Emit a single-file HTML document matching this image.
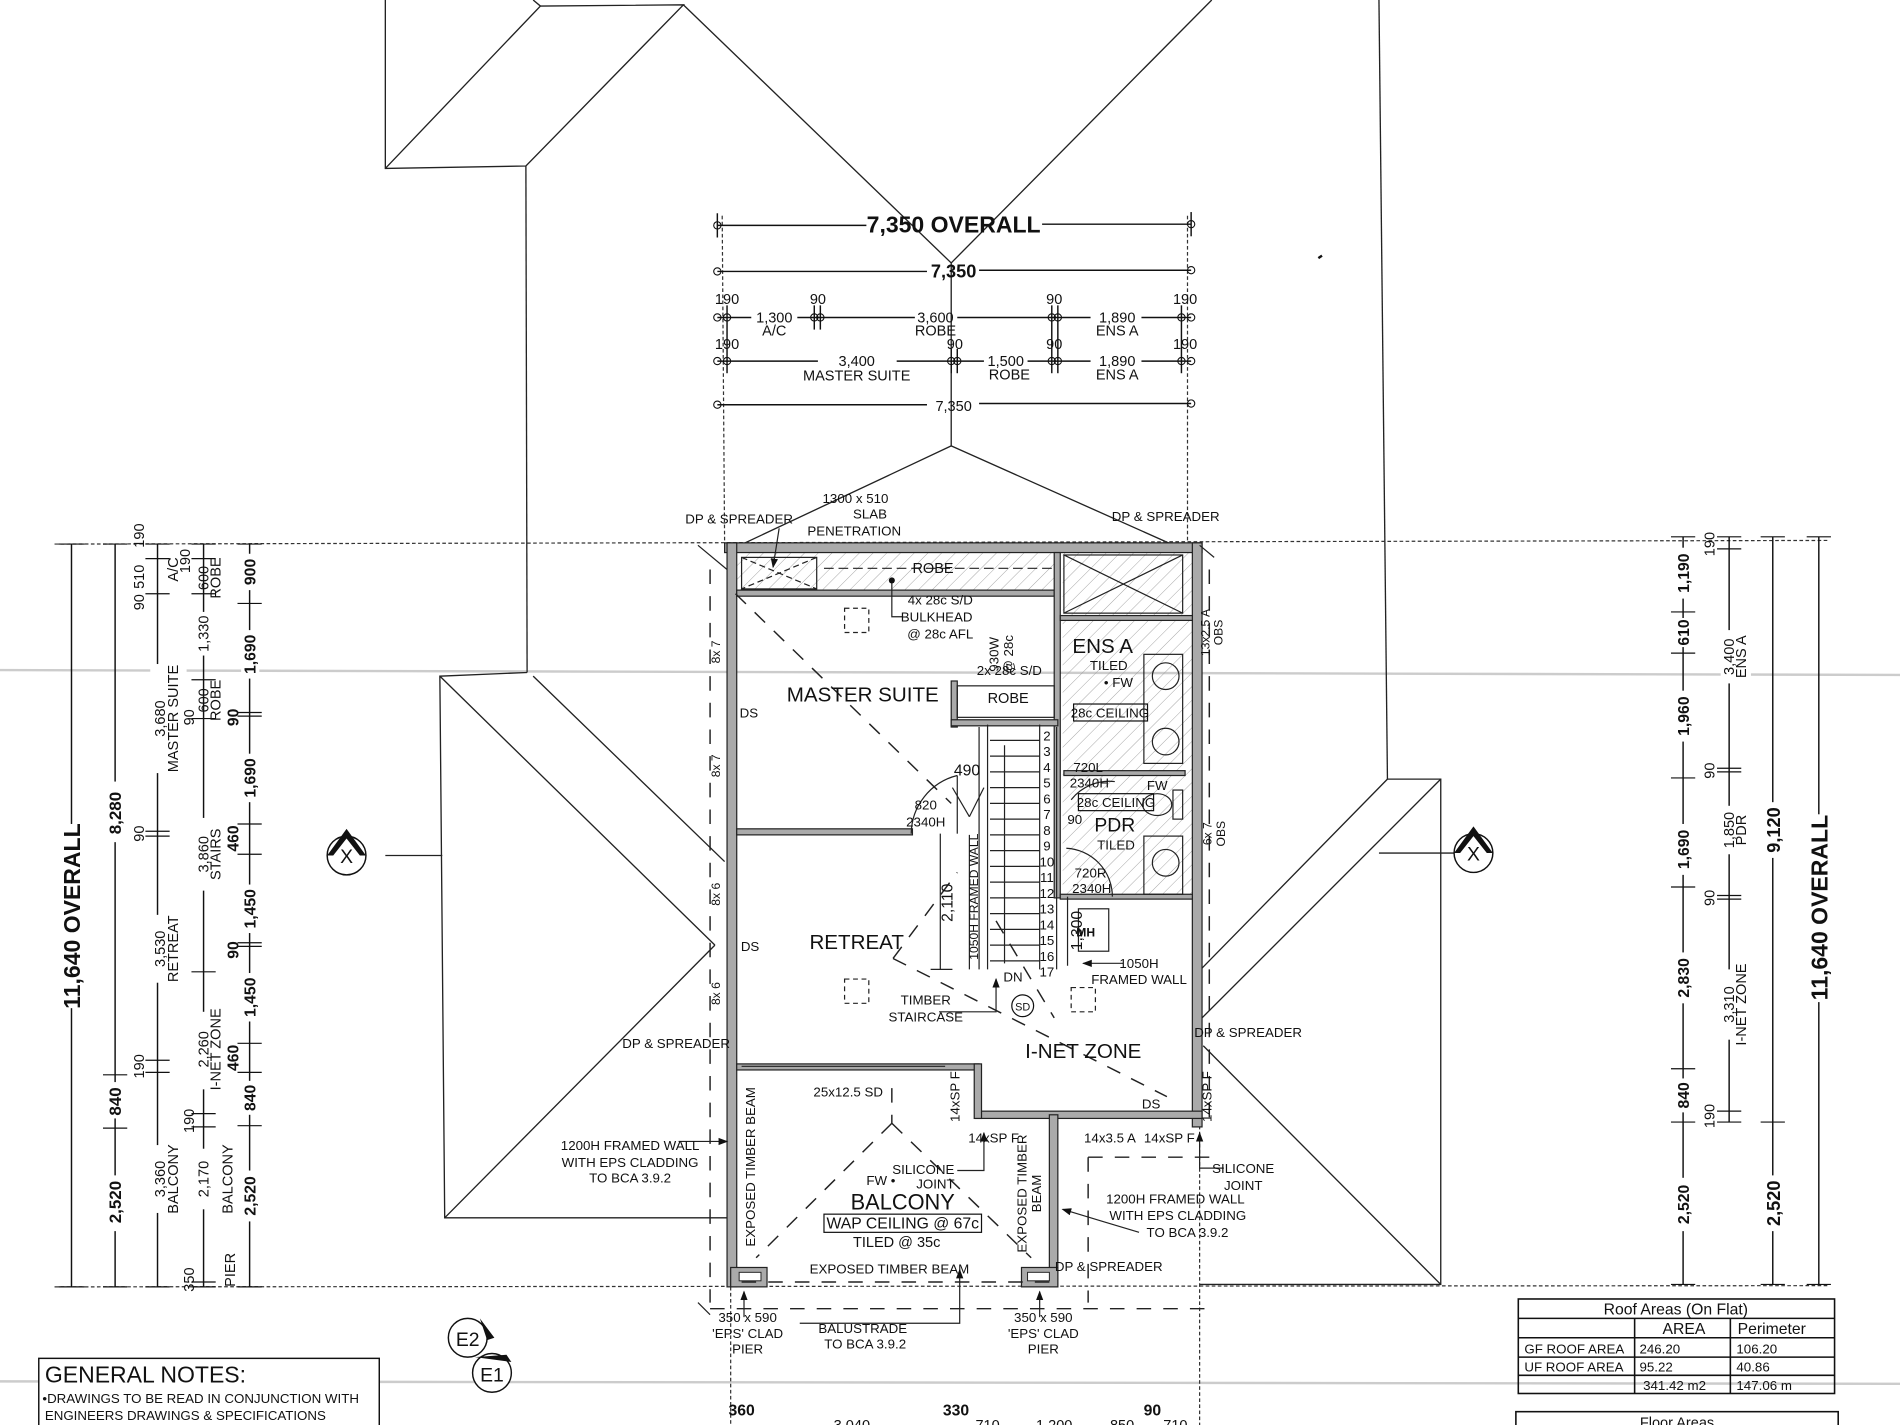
<!DOCTYPE html>
<html><head><meta charset="utf-8">
<style>
html,body{margin:0;padding:0;background:#fff;}
svg{display:block;}
text{font-family:"Liberation Sans Narrow","Liberation Sans",sans-serif;fill:#111;}
</style></head>
<body>
<svg width="1900" height="1425" viewBox="0 0 1568 1176" preserveAspectRatio="none" xmlns="http://www.w3.org/2000/svg">
<defs>
<pattern id="h" width="8" height="8" patternUnits="userSpaceOnUse" patternTransform="rotate(45)">
<line x1="0" y1="0" x2="0" y2="8" stroke="#999" stroke-width="0.7"/></pattern>
<marker id="ar" markerWidth="8" markerHeight="8" refX="7" refY="4" orient="auto"><path d="M0,1 L8,4 L0,7z" fill="#111"/></marker>
</defs>
<rect width="1568" height="1176" fill="#fff"/>
<!-- paper folds -->
<line x1="0" y1="553" x2="1568" y2="557" stroke="#ccc" stroke-width="2"/>
<line x1="0" y1="1140" x2="1568" y2="1142" stroke="#ccc" stroke-width="2"/>

<g stroke="#222" stroke-width="1.1" fill="none">
<!-- top roof -->
<polyline points="318,0 318,139 434,137 564,4 446,5 318,139"/>
<line x1="446" y1="5" x2="440" y2="0"/>
<line x1="434" y1="137" x2="435" y2="555"/>
<line x1="564" y1="4" x2="785" y2="217"/>
<line x1="1000" y1="0" x2="785" y2="217"/>
<line x1="785" y1="217" x2="785" y2="368"/>
<line x1="1138" y1="0" x2="1145" y2="643"/>
<polyline points="600,455 785,368 980,455"/>
<!-- left lower roof -->
<polyline points="435,555 363,558 367,1005 600,1005"/>
<line x1="363" y1="558" x2="590" y2="780"/>
<line x1="440" y1="558" x2="598" y2="711"/>
<line x1="367" y1="1005" x2="590" y2="780"/>
<line x1="318" y1="706" x2="365" y2="706"/>
<!-- right lower roof -->
<polyline points="1145,643 1189,643 1189,1060 990,1060"/>
<line x1="1145" y1="643" x2="989" y2="802"/>
<line x1="1189" y1="643" x2="989" y2="843"/>
<line x1="993" y1="863" x2="1189" y2="1060"/>
<line x1="1138" y1="704" x2="1200" y2="704"/>
</g>
<!-- X markers -->
<g stroke="#111" stroke-width="1.2" fill="#fff">
<circle cx="286" cy="706" r="16"/><circle cx="1216" cy="704" r="16"/>
<circle cx="386" cy="1104" r="16"/><circle cx="406" cy="1133" r="16"/>
</g>
<path d="M270,706 L286,684 L302,706 L297,706 L286,692 L275,706z" fill="#111"/>
<path d="M1200,704 L1216,682 L1232,704 L1227,704 L1216,690 L1205,704z" fill="#111"/>
<text x="286" y="712" font-size="16" text-anchor="middle">X</text>
<text x="1216" y="710" font-size="16" text-anchor="middle">X</text>
<text x="386" y="1111" font-size="16" text-anchor="middle">E2</text>
<text x="406" y="1140" font-size="16" text-anchor="middle">E1</text>
<path d="M396,1088 L408,1104 L402,1106z M392,1120 L418,1118 L422,1124z" fill="#111"/>

<!-- dotted extent lines -->
<g stroke="#333" stroke-width="1" stroke-dasharray="3,2" fill="none">
<line x1="45" y1="449" x2="1510" y2="446"/>
<line x1="45" y1="1062" x2="1510" y2="1061"/>
<line x1="596" y1="178" x2="598" y2="449"/>
<line x1="980" y1="178" x2="980" y2="449"/>
<line x1="603" y1="1062" x2="603" y2="1176"/>
<line x1="990" y1="449" x2="990" y2="1176"/>
</g>

<!-- TOP DIMENSIONS -->
<g stroke="#111" stroke-width="1.2" fill="none">
<line x1="592" y1="186" x2="715" y2="186"/><line x1="860" y1="185" x2="983" y2="185"/>
<line x1="592" y1="224" x2="765" y2="224"/><line x1="808" y1="223" x2="983" y2="223"/>
<line x1="592" y1="262" x2="620" y2="262"/><line x1="658" y1="262" x2="755" y2="262"/><line x1="790" y1="262" x2="900" y2="262"/><line x1="942" y1="262" x2="983" y2="262"/>
<line x1="592" y1="298" x2="675" y2="298"/><line x1="740" y1="298" x2="812" y2="298"/><line x1="848" y1="298" x2="900" y2="298"/><line x1="942" y1="298" x2="983" y2="298"/>
<line x1="592" y1="334" x2="765" y2="334"/><line x1="808" y1="333" x2="983" y2="333"/>
<line x1="592" y1="176" x2="592" y2="196"/><line x1="983" y1="175" x2="983" y2="195"/>
<line x1="600" y1="252" x2="600" y2="308"/><line x1="672" y1="252" x2="672" y2="272"/><line x1="677" y1="252" x2="677" y2="272"/>
<line x1="868" y1="252" x2="868" y2="308"/><line x1="873" y1="252" x2="873" y2="308"/><line x1="975" y1="252" x2="975" y2="308"/>
<line x1="785" y1="288" x2="785" y2="308"/><line x1="790" y1="288" x2="790" y2="308"/>
</g>
<g fill="none" stroke="#111" stroke-width="0.9">
<circle cx="592" cy="186" r="3"/><circle cx="983" cy="185" r="3"/><circle cx="592" cy="224" r="3"/><circle cx="983" cy="223" r="3"/>
<circle cx="592" cy="262" r="3"/><circle cx="600" cy="262" r="3"/><circle cx="672" cy="262" r="3"/><circle cx="677" cy="262" r="3"/><circle cx="868" cy="262" r="3"/><circle cx="873" cy="262" r="3"/><circle cx="975" cy="262" r="3"/><circle cx="983" cy="262" r="3"/>
<circle cx="592" cy="298" r="3"/><circle cx="600" cy="298" r="3"/><circle cx="785" cy="298" r="3"/><circle cx="790" cy="298" r="3"/><circle cx="868" cy="298" r="3"/><circle cx="873" cy="298" r="3"/><circle cx="975" cy="298" r="3"/><circle cx="983" cy="298" r="3"/>
<circle cx="592" cy="334" r="3"/><circle cx="983" cy="333" r="3"/>
</g>
<g font-size="12" text-anchor="middle">
<text x="787" y="192" font-size="19" font-weight="bold">7,350 OVERALL</text>
<text x="787" y="229" font-size="15" font-weight="bold">7,350</text>
<text x="600" y="251">190</text><text x="675" y="251">90</text><text x="870" y="251">90</text><text x="978" y="251">190</text>
<text x="639" y="266">1,300</text><text x="639" y="277">A/C</text>
<text x="772" y="266">3,600</text><text x="772" y="277">ROBE</text>
<text x="922" y="266">1,890</text><text x="922" y="277">ENS A</text>
<text x="600" y="288">190</text><text x="788" y="288">90</text><text x="870" y="288">90</text><text x="978" y="288">190</text>
<text x="707" y="302">3,400</text><text x="707" y="314">MASTER SUITE</text>
<text x="830" y="302">1,500</text><text x="833" y="313">ROBE</text>
<text x="922" y="302">1,890</text><text x="922" y="313">ENS A</text>
<text x="787" y="339">7,350</text>
</g>

<!-- LEFT DIMENSIONS -->
<g stroke="#111" stroke-width="1.2" fill="none">
<line x1="59" y1="449" x2="59" y2="1062"/>
<line x1="95" y1="449" x2="95" y2="1062"/>
<line x1="130" y1="449" x2="130" y2="1062"/>
<line x1="168" y1="449" x2="168" y2="1062"/>
<line x1="206" y1="449" x2="206" y2="1062"/>
<g stroke-width="1">
<line x1="48" y1="449" x2="70" y2="449"/><line x1="48" y1="1062" x2="70" y2="1062"/>
<line x1="85" y1="449" x2="105" y2="449"/><line x1="85" y1="887" x2="105" y2="887"/><line x1="85" y1="931" x2="105" y2="931"/><line x1="85" y1="1062" x2="105" y2="1062"/>
<line x1="120" y1="449" x2="140" y2="449"/><line x1="120" y1="461" x2="140" y2="461"/><line x1="120" y1="490" x2="140" y2="490"/><line x1="120" y1="686" x2="140" y2="686"/><line x1="120" y1="690" x2="140" y2="690"/><line x1="120" y1="875" x2="140" y2="875"/><line x1="120" y1="885" x2="140" y2="885"/><line x1="120" y1="1062" x2="140" y2="1062"/>
<line x1="158" y1="449" x2="178" y2="449"/><line x1="158" y1="461" x2="178" y2="461"/><line x1="158" y1="490" x2="178" y2="490"/><line x1="158" y1="561" x2="178" y2="561"/><line x1="158" y1="593" x2="178" y2="593"/><line x1="158" y1="802" x2="178" y2="802"/><line x1="158" y1="919" x2="178" y2="919"/><line x1="158" y1="930" x2="178" y2="930"/><line x1="158" y1="1058" x2="178" y2="1058"/><line x1="158" y1="1062" x2="178" y2="1062"/>
<line x1="196" y1="449" x2="216" y2="449"/><line x1="196" y1="498" x2="216" y2="498"/><line x1="196" y1="588" x2="216" y2="588"/><line x1="196" y1="591" x2="216" y2="591"/><line x1="196" y1="680" x2="216" y2="680"/><line x1="196" y1="705" x2="216" y2="705"/><line x1="196" y1="778" x2="216" y2="778"/><line x1="196" y1="781" x2="216" y2="781"/><line x1="196" y1="861" x2="216" y2="861"/><line x1="196" y1="885" x2="216" y2="885"/><line x1="196" y1="929" x2="216" y2="929"/><line x1="196" y1="1062" x2="216" y2="1062"/>
</g></g>
<g font-size="12" text-anchor="middle">
<text transform="translate(66,756) rotate(-90)" font-size="20" font-weight="bold" fill="#fff" stroke="none"> </text>
<rect x="48" y="680" width="22" height="152" fill="#fff"/>
<text transform="translate(66,756) rotate(-90)" font-size="19" font-weight="bold">11,640 OVERALL</text>
<rect x="88" y="645" width="15" height="50" fill="#fff"/><text transform="translate(100,671) rotate(-90)" font-size="14" font-weight="bold">8,280</text>
<rect x="88" y="893" width="15" height="30" fill="#fff"/><text transform="translate(100,909) rotate(-90)" font-size="14" font-weight="bold">840</text>
<rect x="88" y="970" width="15" height="46" fill="#fff"/><text transform="translate(100,992) rotate(-90)" font-size="14" font-weight="bold">2,520</text>
<rect x="124" y="548" width="30" height="90" fill="#fff"/><text transform="translate(136,593) rotate(-90)">3,680</text><text transform="translate(147,593) rotate(-90)">MASTER SUITE</text>
<rect x="124" y="755" width="30" height="56" fill="#fff"/><text transform="translate(136,783) rotate(-90)">3,530</text><text transform="translate(147,783) rotate(-90)">RETREAT</text>
<rect x="124" y="945" width="30" height="56" fill="#fff"/><text transform="translate(136,973) rotate(-90)">3,360</text><text transform="translate(147,973) rotate(-90)">BALCONY</text>
<text transform="translate(119,442) rotate(-90)">190</text><text transform="translate(119,476) rotate(-90)">510</text><text transform="translate(119,497) rotate(-90)">90</text>
<text transform="translate(119,688) rotate(-90)">90</text><text transform="translate(119,880) rotate(-90)">190</text>
<text transform="translate(157,463) rotate(-90)">190</text><text transform="translate(147,470) rotate(-90)">A/C</text>
<rect x="160" y="505" width="15" height="36" fill="#fff"/><text transform="translate(172,523) rotate(-90)">1,330</text>
<text transform="translate(172,477) rotate(-90)">600</text><text transform="translate(182,477) rotate(-90)">ROBE</text>
<text transform="translate(172,578) rotate(-90)">600</text><text transform="translate(182,578) rotate(-90)">ROBE</text><text transform="translate(160,592) rotate(-90)">90</text>
<rect x="160" y="675" width="30" height="60" fill="#fff"/><text transform="translate(172,705) rotate(-90)">3,860</text><text transform="translate(182,705) rotate(-90)">STAIRS</text>
<rect x="160" y="835" width="30" height="64" fill="#fff"/><text transform="translate(172,866) rotate(-90)">2,260</text><text transform="translate(182,866) rotate(-90)">I-NET ZONE</text>
<text transform="translate(160,925) rotate(-90)">190</text>
<rect x="160" y="948" width="30" height="50" fill="#fff"/><text transform="translate(172,973) rotate(-90)">2,170</text><text transform="translate(192,973) rotate(-90)">BALCONY</text>
<text transform="translate(160,1056) rotate(-90)">350</text><text transform="translate(194,1048) rotate(-90)">PIER</text>
<g font-weight="bold" font-size="13">
<rect x="199" y="457" width="15" height="30" fill="#fff"/><text transform="translate(211,472) rotate(-90)">900</text>
<rect x="199" y="520" width="15" height="40" fill="#fff"/><text transform="translate(211,540) rotate(-90)">1,690</text>
<rect x="199" y="622" width="15" height="40" fill="#fff"/><text transform="translate(211,642) rotate(-90)">1,690</text>
<text transform="translate(197,692) rotate(-90)">460</text>
<rect x="199" y="730" width="15" height="40" fill="#fff"/><text transform="translate(211,750) rotate(-90)">1,450</text>
<rect x="199" y="803" width="15" height="40" fill="#fff"/><text transform="translate(211,823) rotate(-90)">1,450</text>
<text transform="translate(197,873) rotate(-90)">460</text>
<rect x="199" y="892" width="15" height="28" fill="#fff"/><text transform="translate(211,906) rotate(-90)">840</text>
<rect x="199" y="966" width="15" height="42" fill="#fff"/><text transform="translate(211,987) rotate(-90)">2,520</text>
<text transform="translate(197,784) rotate(-90)">90</text><text transform="translate(197,592) rotate(-90)">90</text>
</g>
</g>

<!-- RIGHT DIMENSIONS -->
<g stroke="#111" stroke-width="1.2" fill="none">
<line x1="1389" y1="443" x2="1389" y2="1060"/>
<line x1="1427" y1="443" x2="1427" y2="926"/>
<line x1="1463" y1="443" x2="1463" y2="1060"/>
<line x1="1501" y1="443" x2="1501" y2="1060"/>
<g stroke-width="1">
<line x1="1379" y1="443" x2="1399" y2="443"/><line x1="1379" y1="505" x2="1399" y2="505"/><line x1="1379" y1="539" x2="1399" y2="539"/><line x1="1379" y1="642" x2="1399" y2="642"/><line x1="1379" y1="732" x2="1399" y2="732"/><line x1="1379" y1="882" x2="1399" y2="882"/><line x1="1379" y1="926" x2="1399" y2="926"/><line x1="1379" y1="1060" x2="1399" y2="1060"/>
<line x1="1417" y1="443" x2="1437" y2="443"/><line x1="1417" y1="453" x2="1437" y2="453"/><line x1="1417" y1="634" x2="1437" y2="634"/><line x1="1417" y1="637" x2="1437" y2="637"/><line x1="1417" y1="739" x2="1437" y2="739"/><line x1="1417" y1="742" x2="1437" y2="742"/><line x1="1417" y1="917" x2="1437" y2="917"/><line x1="1417" y1="926" x2="1437" y2="926"/>
<line x1="1453" y1="443" x2="1473" y2="443"/><line x1="1453" y1="926" x2="1473" y2="926"/><line x1="1453" y1="1060" x2="1473" y2="1060"/>
<line x1="1491" y1="443" x2="1511" y2="443"/><line x1="1491" y1="1060" x2="1511" y2="1060"/>
</g></g>
<g font-size="12" text-anchor="middle">
<g font-weight="bold" font-size="13">
<rect x="1382" y="452" width="15" height="42" fill="#fff"/><text transform="translate(1394,473) rotate(-90)">1,190</text>
<rect x="1382" y="510" width="15" height="24" fill="#fff"/><text transform="translate(1394,522) rotate(-90)">610</text>
<rect x="1382" y="570" width="15" height="42" fill="#fff"/><text transform="translate(1394,591) rotate(-90)">1,960</text>
<rect x="1382" y="680" width="15" height="42" fill="#fff"/><text transform="translate(1394,701) rotate(-90)">1,690</text>
<rect x="1382" y="786" width="15" height="42" fill="#fff"/><text transform="translate(1394,807) rotate(-90)">2,830</text>
<rect x="1382" y="890" width="15" height="28" fill="#fff"/><text transform="translate(1394,904) rotate(-90)">840</text>
<rect x="1382" y="972" width="15" height="44" fill="#fff"/><text transform="translate(1394,994) rotate(-90)">2,520</text>
<rect x="1456" y="662" width="15" height="46" fill="#fff"/><text transform="translate(1469,685) rotate(-90)" font-size="15">9,120</text>
<rect x="1456" y="970" width="15" height="46" fill="#fff"/><text transform="translate(1469,993) rotate(-90)" font-size="15">2,520</text>
<rect x="1492" y="672" width="20" height="155" fill="#fff"/><text transform="translate(1508,749) rotate(-90)" font-size="19">11,640 OVERALL</text>
</g>
<text transform="translate(1415,449) rotate(-90)">190</text>
<rect x="1420" y="520" width="25" height="44" fill="#fff"/><text transform="translate(1431,542) rotate(-90)">3,400</text><text transform="translate(1441,542) rotate(-90)">ENS A</text>
<text transform="translate(1415,636) rotate(-90)">90</text><text transform="translate(1415,741) rotate(-90)">90</text>
<rect x="1420" y="665" width="25" height="40" fill="#fff"/><text transform="translate(1431,685) rotate(-90)">1,850</text><text transform="translate(1441,685) rotate(-90)">PDR</text>
<rect x="1420" y="800" width="25" height="58" fill="#fff"/><text transform="translate(1431,829) rotate(-90)">3,310</text><text transform="translate(1441,829) rotate(-90)">I-NET ZONE</text>
<text transform="translate(1415,921) rotate(-90)">190</text>
</g>

<!-- PLAN -->
<!-- wet area hatch -->
<rect x="877" y="456" width="107" height="284" fill="url(#h)"/>
<rect x="608" y="456" width="262" height="32" fill="url(#h)"/>
<g fill="#aaa" stroke="#222" stroke-width="1">
<rect x="598" y="448" width="394" height="8"/>
<rect x="600" y="448" width="8" height="614"/>
<rect x="984" y="448" width="8" height="482"/>
<rect x="805" y="917" width="187" height="6"/>
<rect x="866" y="920" width="7" height="142"/>
<rect x="608" y="878" width="200" height="5"/>
<rect x="804" y="878" width="6" height="45"/>
<rect x="608" y="684" width="145" height="5"/>
<rect x="608" y="487" width="262" height="5"/>
<rect x="870" y="456" width="5" height="285"/>
<rect x="875" y="738" width="109" height="4"/>
<rect x="875" y="508" width="109" height="4"/>
<rect x="785" y="562" width="5" height="38"/>
<rect x="785" y="594" width="88" height="5"/>
<rect x="878" y="636" width="100" height="4"/>
<rect x="603" y="1046" width="30" height="16"/>
<rect x="843" y="1046" width="30" height="16"/>
</g>
<g fill="#fff" stroke="#222" stroke-width="0.8"><rect x="610" y="1050" width="18" height="7"/><rect x="848" y="1050" width="18" height="7"/></g>
<g stroke="#222" stroke-width="1" fill="none">
<rect x="612" y="460" width="62" height="26"/>
<line x1="612" y1="460" x2="674" y2="486" stroke-dasharray="5,3"/><line x1="674" y1="460" x2="612" y2="486" stroke-dasharray="5,3"/>
<line x1="643" y1="436" x2="638" y2="468" marker-end="url(#ar)"/>
<line x1="680" y1="469" x2="868" y2="469" stroke-dasharray="8,4"/>
<rect x="878" y="458" width="98" height="48"/><line x1="878" y1="458" x2="976" y2="506"/><line x1="976" y1="458" x2="878" y2="506"/>
<rect x="790" y="566" width="80" height="26"/>
<!-- stair -->
<line x1="815" y1="598" x2="815" y2="800"/><line x1="858" y1="598" x2="858" y2="800"/>
<line x1="800" y1="689" x2="800" y2="800"/><line x1="808" y1="600" x2="808" y2="800"/>
<line x1="872" y1="600" x2="872" y2="800"/>
<path d="M817,611h41M817,624h41M817,637h41M817,650h41M817,663h41M817,676h41M817,689h41M817,702h41M817,715h41M817,728h41M817,741h41M817,754h41M817,767h41M817,780h41M817,793h41"/>
<line x1="829" y1="615" x2="829" y2="795"/>
<line x1="786" y1="650" x2="800" y2="674"/><line x1="812" y1="650" x2="800" y2="674"/>
<!-- doors -->
<path d="M752,688 A50,50 0 0 1 790,640"/><line x1="790" y1="640" x2="790" y2="688"/>
<path d="M884,660 A40,40 0 0 1 920,645"/>
<path d="M880,700 A40,40 0 0 1 918,740"/>
<rect x="890" y="750" width="25" height="35"/>
<!-- fixtures -->
<rect x="944" y="540" width="32" height="90"/>
<circle cx="962" cy="558" r="11"/><circle cx="962" cy="612" r="11"/>
<rect x="944" y="690" width="32" height="48"/><circle cx="962" cy="712" r="11"/>
<ellipse cx="955" cy="664" rx="12" ry="9"/><rect x="968" y="652" width="8" height="24"/>
<!-- retreat/door lines -->
<line x1="612" y1="880" x2="780" y2="880"/>
<!-- dashed hip lines -->
<g stroke-dasharray="12,10" stroke-width="1.2">
<line x1="607" y1="490" x2="785" y2="663"/>
<line x1="737" y1="791" x2="963" y2="905"/>
<line x1="737" y1="791" x2="790" y2="720"/>
<line x1="822" y1="760" x2="870" y2="840"/>
<line x1="736" y1="927" x2="624" y2="1038"/>
<line x1="736" y1="927" x2="851" y2="1038"/>
<line x1="736" y1="898" x2="736" y2="927"/>
<line x1="586" y1="470" x2="586" y2="1075"/>
<line x1="998" y1="470" x2="998" y2="930"/>
<line x1="586" y1="1080" x2="998" y2="1080"/>
<line x1="898" y1="955" x2="998" y2="955"/>
<line x1="898" y1="955" x2="898" y2="1075"/>
<line x1="612" y1="1058" x2="866" y2="1058"/>
</g>
<line x1="576" y1="450" x2="600" y2="470"/><line x1="990" y1="450" x2="1002" y2="460"/>
<line x1="576" y1="1075" x2="586" y2="1085"/>
<!-- 2,110 dimension -->
<line x1="776" y1="688" x2="776" y2="800"/><line x1="768" y1="800" x2="786" y2="800"/>
<line x1="881" y1="740" x2="881" y2="797"/>
<!-- leaders -->
<path d="M660,1092 H792 V1048" marker-end="url(#ar)"/>
<path d="M614,1087 V1066" marker-end="url(#ar)"/><path d="M858,1087 V1066" marker-end="url(#ar)"/>
<path d="M560,942 H600" marker-end="url(#ar)"/>
<path d="M940,1017 L910,1008 L877,998" marker-end="url(#ar)"/>
<path d="M790,966 H812 V935" marker-end="url(#ar)"/>
<path d="M1010,964 H990 V935" marker-end="url(#ar)"/>
<path d="M775,835 H822 V808" marker-end="url(#ar)"/>
<path d="M927,795 H894" marker-end="url(#ar)"/>
<path d="M745,509 H736 V480"/>
</g>
<circle cx="736" cy="479" r="2.5" fill="#111"/>
<circle cx="844" cy="830" r="9" fill="none" stroke="#111"/>
<g stroke="#222" stroke-dasharray="4,3" fill="none"><rect x="697" y="502" width="20" height="20"/><rect x="697" y="808" width="20" height="20"/><rect x="884" y="815" width="20" height="20"/></g>

<g font-size="11" text-anchor="middle">
<text x="610" y="432">DP &amp; SPREADER</text><text x="962" y="430">DP &amp; SPREADER</text>
<text x="558" y="865">DP &amp; SPREADER</text><text x="1030" y="856">DP &amp; SPREADER</text><text x="915" y="1049">DP &amp; SPREADER</text>
<text x="706" y="415">1300 x 510</text><text x="718" y="428">SLAB</text><text x="705" y="442">PENETRATION</text>
<text x="770" y="473" font-size="12">ROBE</text>
<text x="776" y="499">4x 28c S/D</text><text x="773" y="513">BULKHEAD</text><text x="776" y="527">@ 28c AFL</text>
<text x="712" y="579" font-size="17">MASTER SUITE</text>
<text x="910" y="539" font-size="17">ENS A</text><text x="915" y="553">TILED</text><text x="923" y="567">• FW</text>
<text x="916" y="592">28c CEILING</text><rect x="886" y="581" width="61" height="14" fill="none" stroke="#111"/>
<text transform="translate(824,540) rotate(-90)">930W</text><text transform="translate(836,540) rotate(-90)">@ 28c</text>
<text x="833" y="557">2x 28c S/D</text><text x="832" y="580" font-size="12">ROBE</text>
<text x="798" y="640" font-size="13">490</text><text x="764" y="668">820</text><text x="764" y="682">2340H</text>
<text x="898" y="637">720L</text><text x="899" y="650">2340H</text><text x="955" y="652">FW</text>
<text x="921" y="666">28c CEILING</text><rect x="890" y="655" width="62" height="14" fill="none" stroke="#111"/>
<text x="920" y="686" font-size="16">PDR</text><text x="887" y="680">90</text><text x="921" y="701">TILED</text>
<text x="900" y="724">720R</text><text x="901" y="737">2340H</text>
<text x="896" y="773" font-weight="bold" font-size="10">MH</text>
<text transform="translate(786,745) rotate(-90)" font-size="13">2,110</text>
<text transform="translate(807,740) rotate(-90)" font-size="10">1050H FRAMED WALL</text>
<text transform="translate(893,768) rotate(-90)" font-size="13">1,300</text>
<text x="940" y="799">1050H</text><text x="940" y="812">FRAMED WALL</text>
<text x="836" y="810">DN</text><text x="764" y="829">TIMBER</text><text x="764" y="843">STAIRCASE</text>
<text x="844" y="834" font-size="9">SD</text>
<text x="707" y="783" font-size="17">RETREAT</text>
<text x="618" y="592">DS</text><text x="619" y="785">DS</text><text x="950" y="915">DS</text>
<text x="894" y="873" font-size="17">I-NET ZONE</text>
<text transform="translate(594,538) rotate(-90)" font-size="10">8x 7</text><text transform="translate(594,632) rotate(-90)" font-size="10">8x 7</text>
<text transform="translate(594,738) rotate(-90)" font-size="10">8x 6</text><text transform="translate(594,820) rotate(-90)" font-size="10">8x 6</text>
<text transform="translate(998,522) rotate(-90)" font-size="10">13x2.5 A</text><text transform="translate(1009,522) rotate(-90)" font-size="10">OBS</text>
<text transform="translate(1000,688) rotate(-90)" font-size="10">6x 7</text><text transform="translate(1011,688) rotate(-90)" font-size="10">OBS</text>
<text transform="translate(792,905) rotate(-90)">14xSP F</text><text transform="translate(1000,905) rotate(-90)">14xSP F</text>
<text x="820" y="943">14xSP F</text><text x="916" y="943">14x3.5 A</text><text x="965" y="943">14xSP F</text>
<text x="700" y="905">25x12.5 SD</text>
<text transform="translate(623,963) rotate(-90)">EXPOSED TIMBER BEAM</text>
<text transform="translate(847,985) rotate(-90)">EXPOSED TIMBER</text><text transform="translate(859,985) rotate(-90)">BEAM</text>
<text x="762" y="969">SILICONE</text><text x="772" y="981">JOINT</text><text x="727" y="978">FW •</text>
<text x="745" y="998" font-size="18">BALCONY</text>
<text x="745" y="1014" font-size="13">WAP CEILING @  67c</text><rect x="680" y="1002" width="130" height="15" fill="none" stroke="#111"/>
<text x="740" y="1029" font-size="12">TILED @ 35c</text><text x="734" y="1051">EXPOSED TIMBER BEAM</text>
<text x="520" y="949">1200H FRAMED WALL</text><text x="520" y="963">WITH EPS CLADDING</text><text x="520" y="976">TO BCA 3.9.2</text>
<text x="970" y="993">1200H FRAMED WALL</text><text x="972" y="1007">WITH EPS CLADDING</text><text x="980" y="1021">TO BCA 3.9.2</text>
<text x="1026" y="968">SILICONE</text><text x="1026" y="982">JOINT</text>
<text x="617" y="1091">350 x 590</text><text x="617" y="1104">'EPS' CLAD</text><text x="617" y="1117">PIER</text>
<text x="861" y="1091">350 x 590</text><text x="861" y="1104">'EPS' CLAD</text><text x="861" y="1117">PIER</text>
<text x="712" y="1100">BALUSTRADE</text><text x="714" y="1113">TO BCA 3.9.2</text>
</g>
<g font-size="11" text-anchor="middle">
<text x="864" y="611">2</text><text x="864" y="624">3</text><text x="864" y="637">4</text><text x="864" y="650">5</text><text x="864" y="663">6</text><text x="864" y="676">7</text><text x="864" y="689">8</text><text x="864" y="702">9</text><text x="864" y="715">10</text><text x="864" y="728">11</text><text x="864" y="741">12</text><text x="864" y="754">13</text><text x="864" y="767">14</text><text x="864" y="780">15</text><text x="864" y="793">16</text><text x="864" y="806">17</text>
</g>

<!-- bottom dims -->
<g font-size="13" text-anchor="middle">
<text x="612" y="1168" font-weight="bold">360</text><text x="789" y="1168" font-weight="bold">330</text><text x="951" y="1168" font-weight="bold">90</text>
<g font-size="12"><text x="703" y="1180">3,040</text><text x="815" y="1180">710</text><text x="870" y="1180">1,200</text><text x="926" y="1180">850</text><text x="970" y="1180">710</text></g>
</g>

<!-- general notes -->
<rect x="32" y="1121" width="281" height="60" fill="#fff" stroke="#111" stroke-width="1.2"/>
<text x="37" y="1141" font-size="19">GENERAL NOTES:</text>
<text x="35" y="1158" font-size="11">•DRAWINGS TO BE READ IN CONJUNCTION WITH</text>
<text x="37" y="1172" font-size="11">ENGINEERS DRAWINGS &amp; SPECIFICATIONS</text>

<!-- roof areas table -->
<g stroke="#111" stroke-width="1.3" fill="none">
<rect x="1253" y="1072" width="261" height="78"/>
<line x1="1253" y1="1088" x2="1514" y2="1088"/>
<line x1="1253" y1="1104" x2="1514" y2="1104"/>
<line x1="1253" y1="1120" x2="1514" y2="1120"/>
<line x1="1253" y1="1135" x2="1514" y2="1135"/>
<line x1="1349" y1="1088" x2="1349" y2="1150"/>
<line x1="1428" y1="1088" x2="1428" y2="1150"/>
<rect x="1251" y="1165" width="266" height="20"/>
</g>
<g font-size="12">
<text x="1383" y="1085" text-anchor="middle" font-size="13">Roof Areas (On Flat)</text>
<text x="1372" y="1101" font-size="13">AREA</text><text x="1434" y="1101" font-size="13">Perimeter</text>
<text x="1258" y="1117" font-size="11">GF ROOF AREA</text><text x="1353" y="1117" font-size="11">246.20</text><text x="1433" y="1117" font-size="11">106.20</text>
<text x="1258" y="1132" font-size="11">UF ROOF AREA</text><text x="1353" y="1132" font-size="11">95.22</text><text x="1433" y="1132" font-size="11">40.86</text>
<text x="1356" y="1147" font-size="11">341.42 m2</text><text x="1433" y="1147" font-size="11">147.06 m</text>
<text x="1384" y="1178" text-anchor="middle" font-size="12">Floor Areas</text>
</g>
<line x1="1088" y1="213" x2="1091" y2="211" stroke="#111" stroke-width="2"/>
</svg>
</body></html>
